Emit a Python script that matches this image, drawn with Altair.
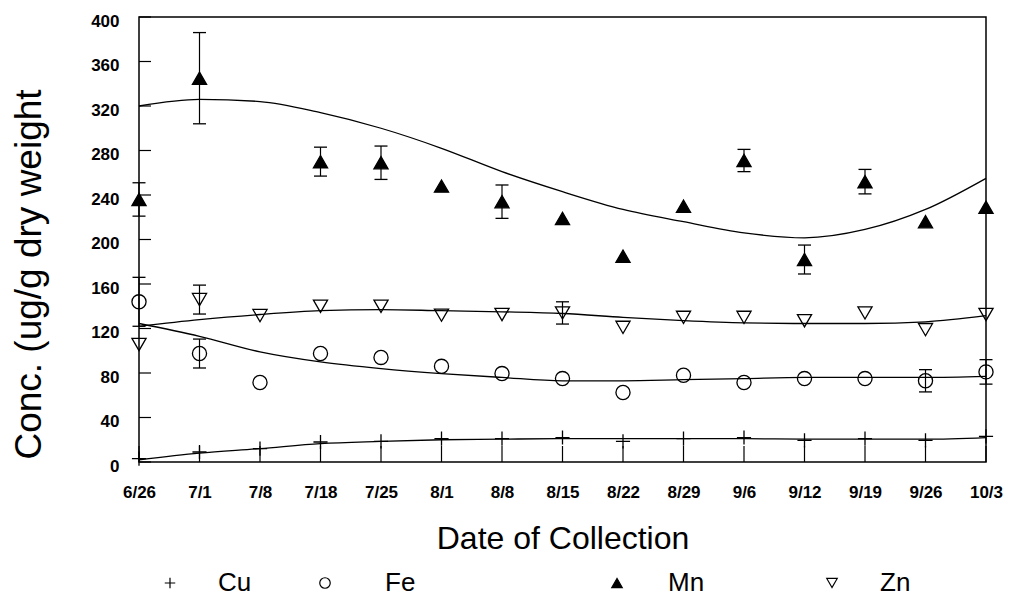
import altair as alt
import pandas as pd

# Collection dates (evenly spaced on the axis)
dates = ["6/26", "7/1", "7/8", "7/18", "7/25", "8/1", "8/8", "8/15",
         "8/22", "8/29", "9/6", "9/12", "9/19", "9/26", "10/3"]
metals = ["Cu", "Fe", "Mn", "Zn"]

# Mean concentrations (ug/g dry weight)
cu_mean = [3, 9, 12, 18, 18.5, 21, 21, 22, 18.5, 21, 22, 19.5, 21, 19.5, 23]
fe_mean = [144, 97.5, 71.5, 97.5, 94, 86, 79.5, 75, 62.5, 78, 71.5, 75, 75, 73, 81]
mn_mean = [236, 345, None, 270, 269, 248, 234, 219, 185, 230, 271, 182, 252, 216, 229]
zn_mean = [105.6, 146, 131.6, 140, 140, 132, 132.6, 134, 121, 130, 130, 127, 134, 119, 132.6]

# Standard errors (None where no bar is drawn)
cu_err = [None] * 15
fe_err = [22, 13, None, None, None, None, None, None, None, None, None, None, None, 10, 11]
mn_err = [15, 41, None, 13, 15, None, 15, None, None, None, 10, 13, 11, None, None]
zn_err = [None, 13, None, None, None, None, None, 10, None, None, None, None, None, None, None]

# Fitted trend curves
cu_fit = [2, 8, 12, 16.5, 18.5, 20, 20.5, 21, 21, 21, 21, 20.5, 20.5, 20.5, 22]
fe_fit = [124.5, 113, 99, 90, 84, 79.5, 76, 73, 73, 74, 75, 76, 76, 76, 77]
mn_fit = [320, 326, 324, 314, 300, 282, 261, 243, 227, 216, 206, 201.5, 209, 227, 255]
zn_fit = [122, 128, 132.6, 136, 137, 136, 135, 133.5, 130, 127, 125, 124.5, 124.5, 126, 131.5]

y_ticks = [0, 40, 80, 120, 160, 200, 240, 280, 320, 360, 400]

series = {
    "Cu": (cu_mean, cu_err, cu_fit),
    "Fe": (fe_mean, fe_err, fe_fit),
    "Mn": (mn_mean, mn_err, mn_fit),
    "Zn": (zn_mean, zn_err, zn_fit),
}
rows = []
for m in metals:
    means, errs, fits = series[m]
    for d, v, e, f in zip(dates, means, errs, fits):
        rows.append({
            "date": d, "metal": m, "mean": v, "fit": f,
            "lo": (v - e) if (v is not None and e is not None) else None,
            "hi": (v + e) if (v is not None and e is not None) else None,
        })
df = pd.DataFrame(rows)

FONT = "'Liberation Sans Narrow', 'Liberation Sans', Arial, sans-serif"
TITLE_FONT = "'Liberation Sans', Arial, sans-serif"
W, H = 847, 445

# Marker style per metal
SHAPES = ["M-1,0L1,0M0,-1L0,1", "circle", "triangle-up", "triangle-down"]
FILLS = ["transparent", "transparent", "black", "transparent"]

x_enc = alt.X(
    "date:O", sort=dates,
    scale=alt.Scale(type="point", padding=0),
    axis=alt.Axis(
        title="Date of Collection", labelAngle=0, tickSize=0, domain=False,
        grid=False, labelPadding=22, labelFontSize=17, labelFont=FONT,
        labelFontWeight="bold", labelColor="black",
        titleFont=TITLE_FONT, titleFontSize=32, titleFontWeight="normal",
        titleColor="black", titleY=76, titleBaseline="middle",
    ),
)
y_scale = alt.Scale(domain=[0, 400], nice=False, zero=True)
y_axis = alt.Axis(
    title="Conc. (ug/g dry weight", values=y_ticks, tickSize=0, domain=False,
    grid=False, labelPadding=20, labelFontSize=17, labelFont=FONT,
    labelFontWeight="bold", labelColor="black", labelOffset=4,
    titleFont=TITLE_FONT, titleFontSize=37, titleFontWeight="normal",
    titleColor="black", titleX=-110, titleY=257, titleBaseline="middle",
    titleAngle=270,
)

base = alt.Chart(df)

fit_lines = base.mark_line(
    color="black", strokeWidth=1.3, interpolate="monotone"
).encode(
    x=x_enc,
    y=alt.Y("fit:Q", scale=y_scale, axis=y_axis),
    detail="metal:N",
)

err_df = base.transform_filter("datum.lo != null")
err_rules = err_df.mark_rule(color="black", strokeWidth=1.2).encode(
    x=alt.X("date:O", sort=dates), y="lo:Q", y2="hi:Q"
)
cap_lo = err_df.mark_tick(color="black", thickness=1.3, size=13, opacity=1).encode(
    x=alt.X("date:O", sort=dates), y="lo:Q"
)
cap_hi = err_df.mark_tick(color="black", thickness=1.3, size=13, opacity=1).encode(
    x=alt.X("date:O", sort=dates), y="hi:Q"
)

points = base.transform_filter("datum.mean != null").mark_point(
    filled=False, color="black", strokeWidth=1.3, size=200, opacity=1
).encode(
    x=alt.X("date:O", sort=dates),
    y="mean:Q",
    shape=alt.Shape("metal:N", sort=metals, legend=None,
                    scale=alt.Scale(domain=metals, range=SHAPES)),
    fill=alt.Fill("metal:N", sort=metals, legend=None,
                  scale=alt.Scale(domain=metals, range=FILLS)),
)

# Inward tick marks on the bottom and left edges
x_tick_df = pd.DataFrame({"date": dates})
x_ticks = alt.Chart(x_tick_df).mark_rule(color="black", strokeWidth=1.2).encode(
    x=alt.X("date:O", sort=dates), y=alt.value(H), y2=alt.value(H - 16)
)
y_tick_df = pd.DataFrame({"v": y_ticks})
y_tick_marks = alt.Chart(y_tick_df).mark_rule(color="black", strokeWidth=1.2).encode(
    y=alt.Y("v:Q", scale=y_scale), x=alt.value(0), x2=alt.value(12)
)

# Key row under the axis title: symbol and label offsets in pixels
KEY_Y = 566
KEY_SYMBOL_X = [31, 186, 478, 693]
KEY_LABEL_X = [79, 246, 529, 741]
key_layers = []
for m, shp, fil, kx, lx in zip(metals, SHAPES, FILLS, KEY_SYMBOL_X, KEY_LABEL_X):
    kdf = pd.DataFrame({"metal": [m]})
    key_layers.append(
        alt.Chart(kdf).mark_point(
            color="black", strokeWidth=1.2, size=110, opacity=1, filled=False
        ).encode(
            x=alt.value(kx), y=alt.value(KEY_Y),
            shape=alt.value(shp), fill=alt.value(fil),
        )
    )
    key_layers.append(
        alt.Chart(kdf).mark_text(
            align="left", baseline="middle", font=TITLE_FONT, fontSize=26,
            color="black",
        ).encode(
            x=alt.value(lx), y=alt.value(KEY_Y),
            text="metal:N",
        )
    )

chart = alt.layer(
    fit_lines, x_ticks, y_tick_marks, err_rules, cap_lo, cap_hi, points,
    *key_layers
).properties(
    width=W, height=H,
    autosize=alt.AutoSizeParams(type="none"),
    padding={"left": 139, "top": 17, "right": 24, "bottom": 145},
    background="white",
).configure_view(
    stroke="black", strokeWidth=1.5
)

chart.save("out.html", embed_options={"renderer": "svg", "actions": False})
